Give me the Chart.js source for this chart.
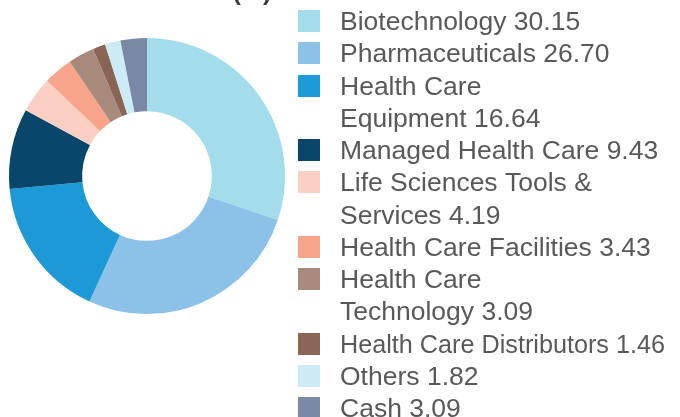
<!DOCTYPE html>
<html><head><meta charset="utf-8">
<script src="https://cdn.jsdelivr.net/npm/chart.js@4.4.1/dist/chart.umd.min.js"></script>
<style>html,body{margin:0;padding:0;background:#fff;overflow:hidden}#wrap{position:relative;width:680px;height:417px}canvas{display:block}</style>
</head><body><div id="wrap"><canvas id="c" width="680" height="417"></canvas></div>
<script>
const chartTitle = 'Sector Allocation (%)';
const categories = ['Biotechnology','Pharmaceuticals','Health Care Equipment','Managed Health Care','Life Sciences Tools & Services','Health Care Facilities','Health Care Technology','Health Care Distributors','Others','Cash'];
const values = [30.15, 26.70, 16.64, 9.43, 4.19, 3.43, 3.09, 1.46, 1.82, 3.09];
const legendLines = [['Biotechnology'],['Pharmaceuticals'],['Health Care','Equipment'],['Managed Health Care'],['Life Sciences Tools &','Services'],['Health Care Facilities'],['Health Care','Technology'],['Health Care Distributors'],['Others'],['Cash']];
const colors = ['#A3DDEC','#8CC2E8','#1C99D6','#08466B','#FBD0C2','#F7A48B','#A88A7D','#8A6455','#CDEBF5','#7A88A5'];

const FONT = '"Liberation Sans", Arial, sans-serif';

const sideLegend = {
  id: 'sideLegend',
  afterDraw(chart) {
    const ctx = chart.ctx;
    ctx.save();
    ctx.textAlign = 'left';
    ctx.textBaseline = 'alphabetic';
    ctx.fillStyle = '#404040';
    ctx.font = 'bold 25px ' + FONT;
    ctx.fillText(chartTitle, 20, -0.5);
    ctx.font = '26.5px ' + FONT;
    const x0 = 298, y0 = 10, pitch = 32.25, box = 22, tx = 340, maxW = 325;
    let row = 0;
    categories.forEach((c, i) => {
      const lines = legendLines[i].slice();
      lines[lines.length - 1] += ' ' + values[i].toFixed(2);
      const y = Math.round(y0 + pitch * row);
      ctx.fillStyle = colors[i];
      ctx.fillRect(x0, y, box, box);
      ctx.fillStyle = '#595959';
      lines.forEach((ln, j) => {
        ctx.fillText(ln, tx, Math.round(y0 + pitch * (row + j)) + 20, maxW);
      });
      row += lines.length;
    });
    ctx.restore();
  }
};

new Chart(document.getElementById('c'), {
  type: 'doughnut',
  data: {
    labels: categories,
    datasets: [{ data: values, backgroundColor: colors, borderWidth: 0, hoverBorderWidth: 0, hoverOffset: 0 }]
  },
  options: {
    responsive: false,
    animation: false,
    cutout: '47%',
    layout: { padding: { left: 9, top: 38, right: 395, bottom: 103 } },
    plugins: { legend: { display: false }, tooltip: { enabled: false }, title: { display: false } }
  },
  plugins: [sideLegend]
});
</script>
</body></html>
